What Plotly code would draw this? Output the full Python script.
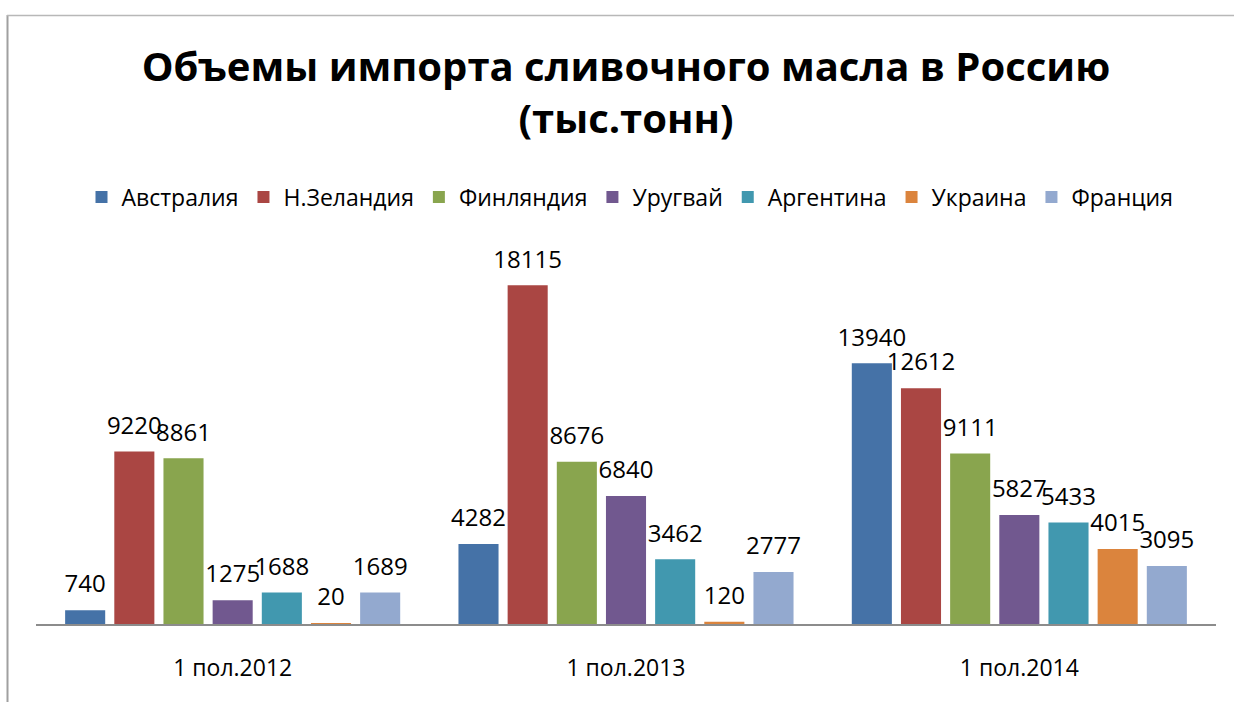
import plotly.graph_objects as go

categories = ["1 пол.2012", "1 пол.2013", "1 пол.2014"]
series_names = ["Австралия", "Н.Зеландия", "Финляндия", "Уругвай", "Аргентина", "Украина", "Франция"]
australia = [740, 4282, 13940]
new_zealand = [9220, 18115, 12612]
finland = [8861, 8676, 9111]
uruguay = [1275, 6840, 5827]
argentina = [1688, 3462, 5433]
ukraine = [20, 120, 4015]
france = [1689, 2777, 3095]
title_text = "Объемы импорта сливочного масла в Россию<br>(тыс.тонн)"

series_values = [australia, new_zealand, finland, uruguay, argentina, ukraine, france]
colors = ["#4572A7", "#AA4643", "#89A54E", "#71588F", "#4198AF", "#DB843D", "#93A9CF"]

FONT = "Open Sans, Noto Sans, sans-serif"

fig = go.Figure()
for name, vals, col in zip(series_names, series_values, colors):
    fig.add_trace(go.Bar(
        name=name, x=categories, y=vals,
        marker=dict(color=col, line=dict(width=0)),
        text=[f"<span style='font-size:24px'>{v}</span><br>\u00a0" for v in vals],
        textposition="outside",
        textfont=dict(family=FONT, size=9, color="#000000"),
        constraintext="none", cliponaxis=False,
    ))

W, H = 1234, 702
L, R, T, B = 36, 18, 250, 78
pw = W - L - R
ph = H - T - B

def px_x(x):
    return (x - L) / pw

def px_y(y):
    return (H - B - y) / ph

fig.update_layout(
    width=W, height=H,
    margin=dict(l=L, r=R, t=T, b=B, pad=0),
    paper_bgcolor="white", plot_bgcolor="white",
    barmode="group", bargap=0.125, bargroupgap=0.185,
    title=dict(text=title_text, x=626 / W, xanchor="center", xref="container",
               y=1 - 81 / H, yanchor="top", yref="container",
               font=dict(family=FONT, size=40, color="#000000", weight="bold")),
    legend=dict(orientation="h", x=px_x(630), xanchor="center", y=px_y(197), yanchor="middle",
                font=dict(family=FONT, size=23, color="#000000"), traceorder="normal",
                itemsizing="constant"),
    xaxis=dict(showline=True, linecolor="#8c8c8c", linewidth=2, showgrid=False, zeroline=False,
               ticks="outside", ticklen=22, tickcolor="rgba(0,0,0,0)",
               tickfont=dict(family=FONT, size=23, color="#000000")),
    yaxis=dict(range=[0, 20000], visible=False, showgrid=False, zeroline=False),
    showlegend=True,
)

fig.add_shape(type="line", xref="paper", yref="paper",
              x0=px_x(7.5), x1=px_x(7.5), y0=px_y(15), y1=px_y(H + 5),
              line=dict(color="#a0a0a0", width=2))
fig.add_shape(type="line", xref="paper", yref="paper",
              x0=px_x(7), x1=px_x(W + 5), y0=px_y(15.5), y1=px_y(15.5),
              line=dict(color="#b8b8b8", width=1.5))

fig.write_html("out.html")
